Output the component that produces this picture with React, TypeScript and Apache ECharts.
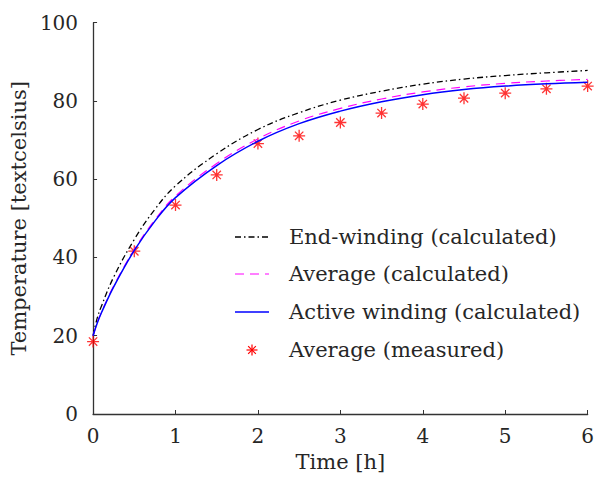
import React, { useEffect, useRef } from "react";
import * as echarts from "echarts";

const timeCalc = [0, 0.05, 0.1, 0.25, 0.5, 0.75, 1, 1.5, 2, 2.5, 3, 3.5, 4, 4.5, 5, 5.5, 6];
const endWinding = [20, 24.5, 27.5, 35, 44.6, 52.3, 58.3, 66.5, 72.7, 77, 80.2, 82.5, 84.3, 85.6, 86.5, 87.2, 87.8];
const avgCalc = [20, 23.3, 25.9, 32.7, 42, 49.6, 55.7, 64, 70.3, 74.9, 78.1, 80.5, 82.3, 83.6, 84.5, 85.1, 85.5];
const activeWinding = [20, 23.2, 25.8, 32.5, 41.8, 49.3, 55.3, 63.5, 69.7, 74.2, 77.4, 79.8, 81.6, 82.9, 83.8, 84.4, 84.8];
const timeMeas = [0, 0.5, 1, 1.5, 2, 2.5, 3, 3.5, 4, 4.5, 5, 5.5, 6];
const avgMeas = [18.5, 41.6, 53.4, 61.1, 69.1, 71.1, 74.5, 76.9, 79.2, 80.7, 82.0, 83.1, 83.8];
const legendNames = ["End-winding (calculated)", "Average (calculated)", "Active winding (calculated)", "Average (measured)"];

const FONT = "DejaVu Serif";
const STAR = "path://M0,-10L0,10M-10,0L10,0M-7,-7L7,7M-7,7L7,-7";

export default function App() {
  const ref = useRef<HTMLDivElement>(null);
  useEffect(() => {
    const chart = echarts.init(ref.current!, null, { renderer: "svg" });
    const pair = (xs: number[], ys: number[]) => xs.map((x, i) => [x, ys[i]]);
    const lx0 = 235, lx1 = 269, tx = 289;
    const rows = [237, 274, 312, 350];
    const textStyle = { fontFamily: FONT, fontSize: 21, fill: "#262626" };
    const graphic: any[] = [];
    const lineStyles: any[] = [
      { stroke: "#000", lineWidth: 1.3, lineDash: [6, 3, 1.5, 3] },
      { stroke: "#ff00ff", lineWidth: 1, lineDash: [9, 6] },
      { stroke: "#0000ff", lineWidth: 1.5 },
    ];
    for (let i = 0; i < 3; i++) {
      graphic.push({ type: "line", shape: { x1: lx0, y1: rows[i], x2: lx1, y2: rows[i] }, style: lineStyles[i] });
    }
    const sx = 252, sy = rows[3], r = 5.5;
    const segs = [[0, -r, 0, r], [-r, 0, r, 0], [-r * 0.7, -r * 0.7, r * 0.7, r * 0.7], [-r * 0.7, r * 0.7, r * 0.7, -r * 0.7]];
    segs.forEach((s) => graphic.push({ type: "line", shape: { x1: sx + s[0], y1: sy + s[1], x2: sx + s[2], y2: sy + s[3] }, style: { stroke: "#ff0000", lineWidth: 1.2 } }));
    legendNames.forEach((n, i) => graphic.push({ type: "text", x: tx, y: rows[i], style: { ...textStyle, text: n, verticalAlign: "middle" } }));

    chart.setOption({
      animation: false,
      backgroundColor: "#fff",
      grid: { left: 93, right: 8, top: 22.7, bottom: 62.8, containLabel: false },
      xAxis: {
        type: "value", min: 0, max: 6, interval: 1,
        name: "Time [h]", nameLocation: "middle", nameGap: 37,
        nameTextStyle: { fontFamily: FONT, fontSize: 21, color: "#262626" },
        axisLine: { lineStyle: { color: "#333", width: 1.3 } },
        axisTick: { inside: true, length: 4, lineStyle: { color: "#333" } },
        axisLabel: { fontFamily: FONT, fontSize: 20, color: "#262626", margin: 12 },
        splitLine: { show: false },
      },
      yAxis: {
        type: "value", min: 0, max: 100, interval: 20,
        name: "Temperature [textcelsius]", nameLocation: "middle", nameGap: 62,
        nameTextStyle: { fontFamily: FONT, fontSize: 21, color: "#262626" },
        axisLine: { show: true, lineStyle: { color: "#333", width: 1.3 } },
        axisTick: { show: true, inside: true, length: 4, lineStyle: { color: "#333" } },
        axisLabel: { fontFamily: FONT, fontSize: 20, color: "#262626", margin: 15 },
        splitLine: { show: false },
      },
      graphic,
      series: [
        { name: legendNames[0], type: "line", data: pair(timeCalc, endWinding), smooth: 0.4, showSymbol: false, lineStyle: { color: "#000", width: 1.3, type: [6, 3, 1.5, 3] } },
        { name: legendNames[1], type: "line", data: pair(timeCalc, avgCalc), smooth: 0.4, showSymbol: false, lineStyle: { color: "#ff00ff", width: 1.2, type: [9, 6] } },
        { name: legendNames[2], type: "line", data: pair(timeCalc, activeWinding), smooth: 0.4, showSymbol: false, lineStyle: { color: "#0000ff", width: 1.5 } },
        { name: legendNames[3], type: "scatter", data: pair(timeMeas, avgMeas), symbol: STAR, symbolSize: 12, itemStyle: { color: "none", borderColor: "#ff0000", borderWidth: 1.3 } },
      ],
    });
    return () => chart.dispose();
  }, []);
  return <div ref={ref} style={{ width: 597, height: 477, position: "absolute", left: 0, top: 0 }} />;
}
